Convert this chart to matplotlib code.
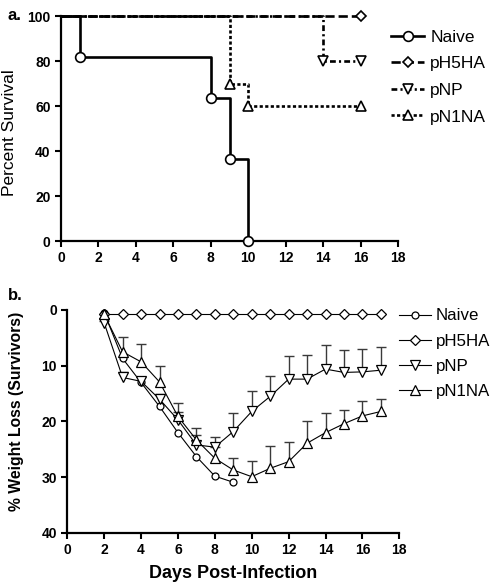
import matplotlib
matplotlib.use("Agg")
import matplotlib.pyplot as plt
import numpy as np

plt.rcParams['font.family'] = ['Liberation Sans', 'DejaVu Sans']

# ---- panel a: survival (Kaplan-Meier steps) ----
naive_t = [0, 1, 8, 9, 10]
naive_s = [100, 81.8, 63.6, 36.4, 0]
h5_t = [0, 16]
h5_s = [100, 100]
np_t = [0, 14, 16]
np_s = [100, 80, 80]
n1_t = [0, 9, 10, 16]
n1_s = [100, 70, 60, 60]

# ---- panel b: weight loss ----
naive_days = [2, 3, 4, 5, 6, 7, 8, 9]
naive_wl = [0.5, 8.7, 13.0, 17.3, 22.0, 26.3, 29.8, 30.9]
h5_days = list(range(2, 18))
h5_wl = [0.7] * 16
pnp_days = list(range(2, 18))
pnp_wl = [2.3, 12.1, 12.8, 16.0, 19.7, 24.2, 24.6, 21.8, 18.2, 15.5, 12.4, 12.4, 10.6, 11.2, 11.1, 10.8]
pnp_err = [0.3, 1.0, 0.8, 0.9, 1.4, 1.7, 1.8, 3.4, 3.7, 3.7, 4.1, 4.4, 4.3, 4.0, 4.1, 4.2]
n1_days = list(range(2, 18))
n1_wl = [0.8, 7.5, 9.3, 12.9, 19.1, 23.3, 26.6, 28.7, 29.9, 28.4, 27.2, 23.9, 22.0, 20.4, 19.0, 18.2]
n1_err = [0.0, 2.6, 3.2, 2.9, 2.4, 2.1, 2.0, 2.1, 2.9, 4.0, 3.6, 3.9, 3.5, 2.5, 2.6, 2.2]

labels = ["Naive", "pH5HA", "pNP", "pN1NA"]

fig = plt.figure(figsize=(4.98, 5.87), dpi=100)
fig.patch.set_facecolor("white")


def style_axes(ax):
    for s in ("top", "right"):
        ax.spines[s].set_visible(False)
    for s in ("left", "bottom"):
        ax.spines[s].set_linewidth(1.6)
    ax.tick_params(width=1.5, length=4, pad=3.5, labelsize=10)
    for lab in ax.get_xticklabels() + ax.get_yticklabels():
        lab.set_fontweight("bold")


# panel a ---------------------------------------------------------------
axa = fig.add_axes([0.1225, 0.5894, 0.6767, 0.3833])
mk = dict(mfc="white", mec="black", mew=1.2, clip_on=False, color="black", lw=1.9)
axa.step(h5_t, h5_s, where="post", marker="D", ms=5.5, markevery=slice(1, None),
         dashes=(3.5, 1.5), label=labels[1], zorder=3, **mk)
axa.step(np_t, np_s, where="post", marker="v", ms=7, markevery=slice(1, None),
         dashes=(2.2, 1.2, 0.8, 1.2), label=labels[2], zorder=3, **mk)
axa.step(n1_t, n1_s, where="post", marker="^", ms=7, markevery=slice(1, None),
         dashes=(1.2, 0.9), label=labels[3], zorder=3, **mk)
axa.step(naive_t, naive_s, where="post", marker="o", ms=7, markevery=slice(1, None),
         label=labels[0], zorder=4, **mk)
axa.set_xlim(0, 18)
axa.set_ylim(0, 100)
axa.set_xticks(range(0, 19, 2))
axa.set_yticks(range(0, 101, 20))
style_axes(axa)
axa.set_ylabel("Percent Survival", fontsize=12.5)
axa.yaxis.set_label_coords(-0.13, 0.48)
h, l = axa.get_legend_handles_labels()
order = [3, 0, 1, 2]
axa.legend([h[i] for i in order], [l[i] for i in order], loc="upper left",
           bbox_to_anchor=(0.98, 0.94), frameon=False, borderpad=0,
           borderaxespad=0, fontsize=12.5, handlelength=1.9, handletextpad=0.35,
           labelspacing=0.66)

# panel b ---------------------------------------------------------------
axb = fig.add_axes([0.1351, 0.092, 0.6667, 0.3799])
lk = dict(color="black", lw=0.8, mfc="white", mec="black", mew=0.9, clip_on=False)
ecol = "#3a3a3a"
for d, v, e in ((pnp_days, pnp_wl, pnp_err), (n1_days, n1_wl, n1_err)):
    d = np.array(d); v = np.array(v); e = np.array(e)
    top = v - e
    axb.vlines(d, top, v, color=ecol, lw=1.0, zorder=2)
    axb.plot(d, top, ls="none", marker="_", ms=7, mew=1.0, color=ecol, zorder=2)
axb.plot(naive_days, naive_wl, marker="o", ms=5, label=labels[0], zorder=4, **lk)
axb.plot(h5_days, h5_wl, marker="D", ms=5, label=labels[1], zorder=4, **lk)
axb.plot(pnp_days, pnp_wl, marker="v", ms=6.5, label=labels[2], zorder=4, **lk)
axb.plot(n1_days, n1_wl, marker="^", ms=6.5, label=labels[3], zorder=4, **lk)
axb.set_xlim(0, 18)
axb.set_ylim(40, 0)
axb.set_xticks(range(0, 19, 2))
axb.set_yticks(range(0, 41, 10))
style_axes(axb)
axb.set_ylabel("% Weight Loss (Survivors)", fontsize=11.3, fontweight="bold")
axb.yaxis.set_label_coords(-0.13, 0.547)
axb.set_xlabel("Days Post-Infection", fontsize=13, fontweight="bold")
axb.xaxis.set_label_coords(0.5, -0.145)
axb.legend(loc="upper left", bbox_to_anchor=(1.0, 1.007), frameon=False, borderpad=0,
           borderaxespad=0, fontsize=12.2, handlelength=1.85, handletextpad=0.3,
           labelspacing=0.6)

fig.text(0.016, 0.974, "a.", fontsize=12, fontweight="bold", ha="left", va="center")
fig.text(0.016, 0.496, "b.", fontsize=12, fontweight="bold", ha="left", va="center")

fig.savefig("out.png", dpi=100, facecolor="white")
